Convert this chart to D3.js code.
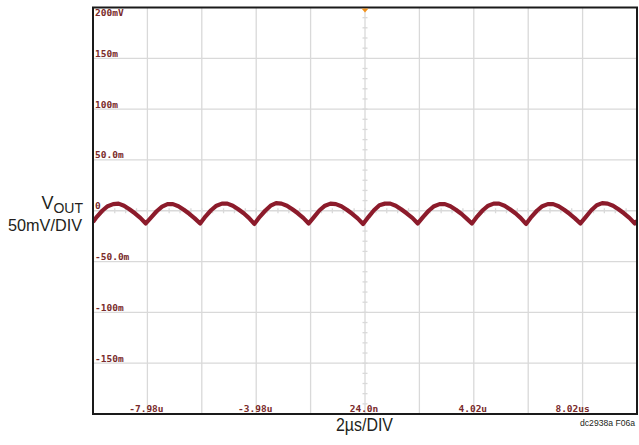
<!DOCTYPE html>
<html>
<head>
<meta charset="utf-8">
<script src="https://cdn.jsdelivr.net/npm/d3@7"></script>
<style>
  body { margin: 0; background: #fff; }
  svg { display: block; }
</style>
</head>
<body>
<div id="chart"></div>
<script>
// Scope settings: 2us/div, 50mV/div
let xDomain = [-10, 10];      // us
let yDomain = [-200, 200];    // mV
let xGridValues = [-8, -6, -4, -2, 0, 2, 4, 6, 8];
let yGridValues = [-150, -100, -50, 0, 50, 100, 150];

let xTickValues = [-8, -4, 0, 4, 8];
let xTickLabels = ["-7.98u", "-3.98u", "24.0n", "4.02u", "8.02us"];
let yTickValues = [200, 150, 100, 50, 0, -50, -100, -150];
let yTickLabels = ["200mV", "150m", "100m", "50.0m", "0", "-50.0m", "-100m", "-150m"];

// Output ripple trace [time us, mV]
let voutTrace = [
  [-10.0, -11], [-9.86, -6], [-9.66, 0], [-9.46, 4.5], [-9.26, 6.5], [-9.06, 7],
  [-8.86, 5], [-8.66, 1.5], [-8.46, -2.5], [-8.26, -7], [-8.06, -12.5],
  [-7.86, -6.5], [-7.66, -0.5], [-7.46, 4], [-7.26, 6.5], [-7.06, 6.5],
  [-6.86, 4.5], [-6.66, 1], [-6.46, -3], [-6.26, -7.5], [-6.06, -12.5],
  [-5.86, -5.5], [-5.66, 0.5], [-5.46, 5], [-5.26, 7], [-5.06, 7],
  [-4.86, 5], [-4.66, 1.5], [-4.46, -2.5], [-4.27, -7], [-4.07, -13],
  [-3.87, -6], [-3.67, 0], [-3.47, 5], [-3.27, 7.5], [-3.07, 7],
  [-2.87, 5], [-2.67, 1.5], [-2.47, -2.5], [-2.27, -7], [-2.07, -12.5],
  [-1.87, -6], [-1.67, 0.5], [-1.47, 5], [-1.27, 7], [-1.07, 6.5],
  [-0.87, 4.5], [-0.67, 1], [-0.47, -3], [-0.27, -7.5], [-0.07, -13],
  [0.13, -6], [0.33, 0.5], [0.53, 5.5], [0.73, 7], [0.93, 7],
  [1.13, 5], [1.33, 1.5], [1.53, -2.5], [1.74, -7], [1.94, -12.5],
  [2.14, -6], [2.34, 0], [2.54, 4.5], [2.74, 6.5], [2.94, 6.5],
  [3.14, 4.5], [3.34, 1], [3.54, -3], [3.73, -7.5], [3.93, -12.5],
  [4.13, -5.5], [4.33, 0.5], [4.53, 5], [4.73, 7], [4.93, 7],
  [5.13, 5], [5.33, 1.5], [5.53, -2.5], [5.72, -7], [5.92, -13],
  [6.12, -6], [6.32, 0], [6.52, 4.5], [6.72, 6.5], [6.92, 6.5],
  [7.12, 4.5], [7.32, 1], [7.52, -3], [7.72, -7.5], [7.92, -12.5],
  [8.12, -6], [8.32, 0.5], [8.52, 5.5], [8.72, 7.5], [8.92, 7],
  [9.12, 5], [9.32, 1.5], [9.52, -2.5], [9.72, -7], [9.92, -12.5], [10.0, -10]
];

function BuildGraph(){
  let chart_width = 639;
  let chart_height = 445;
  let left = 93, right = 637, top = 7.5, bottom = 414;

  let svg = d3.select('#chart')
    .append('svg')
    .attr('width', chart_width)
    .attr('height', chart_height);

  let x_scale = d3.scaleLinear().domain(xDomain).range([left, right]);
  let y_scale = d3.scaleLinear().domain(yDomain).range([bottom, top]);

  // Grid
  let grid = svg.append('g').attr('stroke', '#d9d9d9').attr('stroke-width', 1.3);
  grid.selectAll('line.v')
    .data(xGridValues)
    .enter()
    .append('line')
    .attr('x1', (d) => x_scale(d)).attr('x2', (d) => x_scale(d))
    .attr('y1', top).attr('y2', bottom);
  grid.selectAll('line.h')
    .data(yGridValues)
    .enter()
    .append('line')
    .attr('x1', left).attr('x2', right)
    .attr('y1', (d) => y_scale(d)).attr('y2', (d) => y_scale(d));

  // Minor ticks on the centre cross
  let xMinor = d3.range(xDomain[0], xDomain[1] + 0.001, 0.4);
  let yMinor = d3.range(yDomain[0], yDomain[1] + 0.001, 10);
  grid.selectAll('line.mx')
    .data(xMinor)
    .enter()
    .append('line')
    .attr('x1', (d) => x_scale(d)).attr('x2', (d) => x_scale(d))
    .attr('y1', y_scale(0) - 2.5).attr('y2', y_scale(0) + 2.5);
  grid.selectAll('line.my')
    .data(yMinor)
    .enter()
    .append('line')
    .attr('x1', x_scale(0) - 2.5).attr('x2', x_scale(0) + 2.5)
    .attr('y1', (d) => y_scale(d)).attr('y2', (d) => y_scale(d));

  // Tick labels inside the screen
  let labelColor = '#7a2b2b';
  svg.selectAll('text.ylab')
    .data(yTickValues)
    .enter()
    .append('text')
    .attr('x', left + 2)
    .attr('y', (d) => d == 200 ? y_scale(d) + 8.5 : y_scale(d) - 1.5)
    .style('font-family', 'DejaVu Sans Mono')
    .style('font-weight', 'bold')
    .style('font-size', '9.5px')
    .attr('fill', labelColor)
    .text((d, i) => yTickLabels[i]);

  svg.selectAll('text.xlab')
    .data(xTickValues)
    .enter()
    .append('text')
    .attr('x', (d, i) => x_scale(d) + (i == xTickValues.length - 1 ? -10 : -1))
    .attr('y', bottom - 2)
    .attr('text-anchor', 'middle')
    .style('font-family', 'DejaVu Sans Mono')
    .style('font-weight', 'bold')
    .style('font-size', '9.5px')
    .attr('fill', labelColor)
    .text((d, i) => xTickLabels[i]);

  // Trace
  svg.append('clipPath').attr('id', 'clip')
    .append('rect')
    .attr('x', left).attr('y', top)
    .attr('width', right - left).attr('height', bottom - top);

  let line = d3.line()
    .x((d) => x_scale(d[0]))
    .y((d) => y_scale(d[1]));

  svg.append('path')
    .datum(voutTrace)
    .attr('clip-path', 'url(#clip)')
    .attr('d', line)
    .attr('fill', 'none')
    .attr('stroke', '#8c1b2b')
    .attr('stroke-width', 4.2)
    .attr('stroke-linejoin', 'round');

  // Screen border
  svg.append('rect')
    .attr('x', left).attr('y', top)
    .attr('width', right - left).attr('height', bottom - top)
    .attr('fill', 'none')
    .attr('stroke', '#1a1a1a')
    .attr('stroke-width', 2);

  // Trigger marker
  let tx = x_scale(0);
  svg.append('path')
    .attr('d', 'M' + (tx - 3.5) + ',' + (top + 1) + 'L' + (tx + 3.5) + ',' + (top + 1) + 'L' + tx + ',' + (top + 5) + 'Z')
    .attr('fill', '#f2921c');

  // Outside labels
  let vlab = svg.append('text')
    .attr('x', 83)
    .attr('y', 209)
    .attr('text-anchor', 'end')
    .style('font-family', 'Liberation Sans, Arial, sans-serif')
    .style('font-size', '18px')
    .attr('fill', '#231f20');
  vlab.append('tspan').text('V');
  vlab.append('tspan').attr('dy', 4).style('font-size', '14px').text('OUT');

  svg.append('text')
    .attr('x', 8)
    .attr('y', 231)
    .attr('textLength', 74)
    .attr('lengthAdjust', 'spacingAndGlyphs')
    .style('font-family', 'Liberation Sans, Arial, sans-serif')
    .style('font-size', '17px')
    .attr('fill', '#231f20')
    .text('50mV/DIV');

  svg.append('text')
    .attr('x', 336)
    .attr('y', 431)
    .attr('textLength', 57)
    .attr('lengthAdjust', 'spacingAndGlyphs')
    .style('font-family', 'Liberation Sans, Arial, sans-serif')
    .style('font-size', '18px')
    .attr('fill', '#231f20')
    .text('2µs/DIV');

  svg.append('text')
    .attr('x', 635)
    .attr('y', 426)
    .attr('text-anchor', 'end')
    .style('font-family', 'Liberation Sans, Arial, sans-serif')
    .style('font-size', '8.6px')
    .attr('fill', '#231f20')
    .text('dc2938a F06a');
}

document.addEventListener('DOMContentLoaded', function(){
  BuildGraph();
});
</script>
</body>
</html>
